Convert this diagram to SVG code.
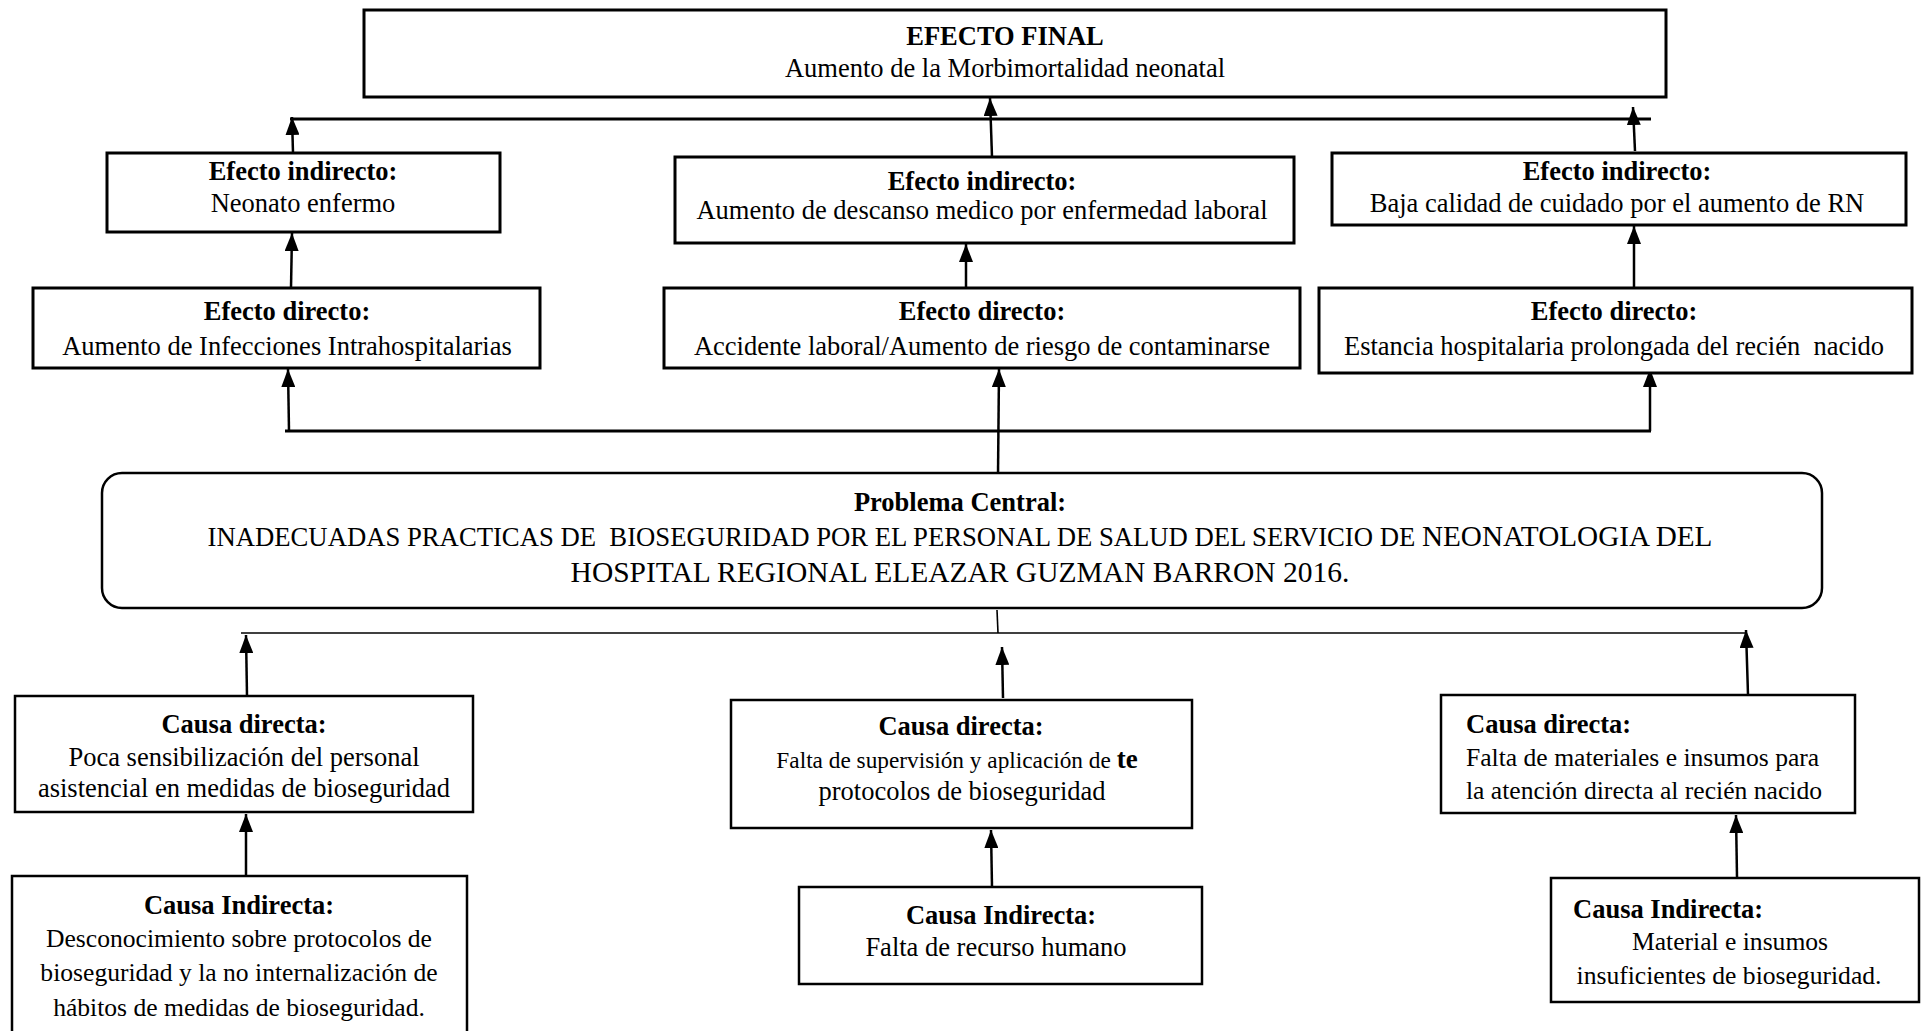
<svg xmlns="http://www.w3.org/2000/svg" width="1921" height="1031" viewBox="0 0 1921 1031" xml:space="preserve">
<style>
  .box { fill: #fff; stroke: #000; stroke-width: 3; }
  .thin { stroke-width: 2.5; }
  text { font-family: "Liberation Serif", "Times New Roman", serif; font-size: 26.5px; fill: #000; white-space: pre; }
  .b { font-weight: bold; }
  .c { text-anchor: middle; }
  .s { font-size: 25.6px; }
  .con { stroke: #000; stroke-width: 3; fill: none; }
  .ar { stroke: #000; stroke-width: 2.5; fill: none; marker-end: url(#ah); }
  .ln { stroke: #000; stroke-width: 1.6; fill: none; }
</style>
<defs>
  <marker id="ah" markerUnits="userSpaceOnUse" markerWidth="18" markerHeight="14" refX="18" refY="7" orient="auto" viewBox="0 0 18 14">
    <path d="M0 0 L18 7 L0 14 Z" fill="#000"/>
  </marker>
</defs>
<rect width="1921" height="1031" fill="#fff"/>

<g id="connectors">
  <path class="con" d="M290 119 H1651"/>
  <path class="ar" d="M293 153 L292 117"/>
  <path class="ar" d="M992 157 L990 98"/>
  <path class="ar" d="M1635 151 L1633 107"/>
  <path class="ar" d="M291 288 L292 233"/>
  <path class="ar" d="M966 289 L966 244"/>
  <path class="ar" d="M1634 287 L1634 226"/>
  <path class="con" d="M285 431 H1651"/>
  <path class="ar" d="M289 431 L288 369"/>
  <path class="ar" d="M998 475 L999 369"/>
  <path class="ar" d="M1650 431 L1650 369"/>
  <path class="ln" d="M241 633 H1746"/>
  <path class="ln" d="M997 610 L998 633"/>
  <path class="ar" d="M247 696 L246 635"/>
  <path class="ar" d="M1003 698 L1002 647"/>
  <path class="ar" d="M1748 695 L1746 630"/>
  <path class="ar" d="M246 876 L246 814"/>
  <path class="ar" d="M992 887 L991 830"/>
  <path class="ar" d="M1737 877 L1736 815"/>
</g>

<g id="efecto-final">
  <rect class="box" x="364" y="10" width="1302" height="87"/>
  <text class="b c" x="1005" y="45">EFECTO FINAL</text>
  <text class="c" x="1005" y="77">Aumento de la Morbimortalidad neonatal</text>
</g>

<g id="efecto-indirecto-1">
  <rect class="box" x="107" y="153" width="393" height="79"/>
  <text class="b c" x="303" y="180">Efecto indirecto:</text>
  <text class="c" x="303" y="212">Neonato enfermo</text>
</g>
<g id="efecto-indirecto-2">
  <rect class="box" x="675" y="157" width="619" height="86"/>
  <text class="b c" x="982" y="190">Efecto indirecto:</text>
  <text class="c" x="982" y="219">Aumento de descanso medico por enfermedad laboral</text>
</g>
<g id="efecto-indirecto-3">
  <rect class="box" x="1332" y="153" width="574" height="72"/>
  <text class="b c" x="1617" y="180">Efecto indirecto:</text>
  <text class="c" x="1617" y="212">Baja calidad de cuidado por el aumento de RN</text>
</g>

<g id="efecto-directo-1">
  <rect class="box" x="33" y="288" width="507" height="80"/>
  <text class="b c" x="287" y="320">Efecto directo:</text>
  <text class="c" x="287" y="355">Aumento de Infecciones Intrahospitalarias</text>
</g>
<g id="efecto-directo-2">
  <rect class="box" x="664" y="288" width="636" height="80"/>
  <text class="b c" x="982" y="320">Efecto directo:</text>
  <text class="c" x="982" y="355">Accidente laboral/Aumento de riesgo de contaminarse</text>
</g>
<g id="efecto-directo-3">
  <rect class="box" x="1319" y="288" width="593" height="85"/>
  <text class="b c" x="1614" y="320">Efecto directo:</text>
  <text class="c" x="1614" y="355">Estancia hospitalaria prolongada del recién  nacido</text>
</g>

<g id="problema-central">
  <rect class="box thin" x="102" y="473" width="1720" height="135" rx="20" ry="20"/>
  <text class="b c" x="960" y="511">Problema Central:</text>
  <text class="c" x="960" y="546" style="font-size:26.7px"><tspan>INADECUADAS PRACTICAS DE  BIOSEGURIDAD POR EL PERSONAL DE SALUD DEL SERVICIO DE </tspan><tspan style="font-size:29.2px">NEONATOLOGIA DEL</tspan></text>
  <text class="c" x="960" y="582" style="font-size:29.5px">HOSPITAL REGIONAL ELEAZAR GUZMAN BARRON 2016.</text>
</g>

<g id="causa-directa-1">
  <rect class="box thin" x="15" y="696" width="458" height="116"/>
  <text class="b c" x="244" y="733">Causa directa:</text>
  <text class="c" x="244" y="766">Poca sensibilización del personal</text>
  <text class="c" x="244" y="797">asistencial en medidas de bioseguridad</text>
</g>
<g id="causa-directa-2">
  <rect class="box thin" x="731" y="700" width="461" height="128"/>
  <text class="b c" x="961" y="735">Causa directa:</text>
  <text class="c" x="957" y="768" style="font-size:23.3px">Falta de supervisión y aplicación de <tspan class="b" style="font-size:27px">te</tspan></text>
  <text class="c" x="962" y="800">protocolos de bioseguridad</text>
</g>
<g id="causa-directa-3">
  <rect class="box thin" x="1441" y="695" width="414" height="118"/>
  <text class="b" x="1466" y="733">Causa directa:</text>
  <text class="s" x="1466" y="766">Falta de materiales e insumos para</text>
  <text class="s" x="1466" y="799">la atención directa al recién nacido</text>
</g>

<g id="causa-indirecta-1">
  <rect class="box thin" x="12" y="876" width="455" height="170"/>
  <text class="b c" x="239" y="914">Causa Indirecta:</text>
  <text class="c s" x="239" y="947">Desconocimiento sobre protocolos de</text>
  <text class="c s" x="239" y="981">bioseguridad y la no internalización de</text>
  <text class="c s" x="239" y="1016">hábitos de medidas de bioseguridad.</text>
</g>
<g id="causa-indirecta-2">
  <rect class="box thin" x="799" y="887" width="403" height="97"/>
  <text class="b c" x="1001" y="924">Causa Indirecta:</text>
  <text class="c" x="996" y="956">Falta de recurso humano</text>
</g>
<g id="causa-indirecta-3">
  <rect class="box thin" x="1551" y="878" width="368" height="124"/>
  <text class="b" x="1573" y="918">Causa Indirecta:</text>
  <text class="c s" x="1730" y="950">Material e insumos</text>
  <text class="c s" x="1729" y="984">insuficientes de bioseguridad.</text>
</g>
</svg>
